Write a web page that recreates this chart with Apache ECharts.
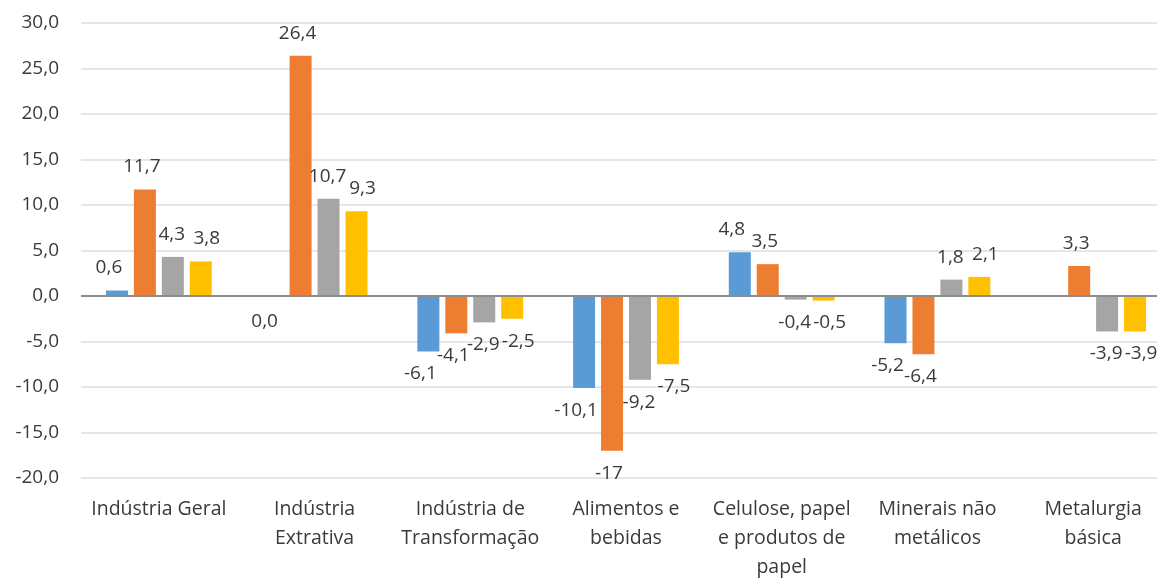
<!DOCTYPE html>
<html>
<head>
<meta charset="utf-8">
<script src="https://cdn.jsdelivr.net/npm/echarts@6/dist/echarts.min.js"></script>
<style>
  html, body { margin: 0; padding: 0; background: #fff; }
  #chart { width: 1157px; height: 579px; }
</style>
</head>
<body>
<div id="chart"></div>
<script>
// categorias do eixo x
var categories = ['Indústria Geral', 'Indústria\nExtrativa', 'Indústria de\nTransformação', 'Alimentos e\nbebidas',
  'Celulose, papel\ne produtos de\npapel', 'Minerais não\nmetálicos', 'Metalurgia\nbásica'];
// quatro séries (sem legenda no original)
var serieAzul = [0.6, 0.0, -6.1, -10.1, 4.8, -5.2, null];
var serieLaranja = [11.7, 26.4, -4.1, -17, 3.5, -6.4, 3.3];
var serieCinza = [4.3, 10.7, -2.9, -9.2, -0.4, 1.8, -3.9];
var serieAmarela = [3.8, 9.3, -2.5, -7.5, -0.5, 2.1, -3.9];
var yTicks = [-20, -15, -10, -5, 0, 5, 10, 15, 20, 25, 30];

var textColor = '#3a3a3a';
var fontFamily = '"Open Sans", sans-serif';
// deslocamento horizontal dos rótulos por série, para não encostarem
var labelShift = [-8, -3, -1, 6];

function fmt(v) {
  // rótulo com vírgula decimal; inteiros (ex. -17) sem casa decimal
  if (v !== 0 && Number.isInteger(v)) return String(v);
  return v.toFixed(1).replace('.', ',');
}

function buildData(values) {
  return values.map(function (v) {
    if (v === 0) {
      // barra zero: rótulo fica abaixo do eixo
      return { value: v, label: { position: 'bottom', distance: 16 } };
    }
    return v;
  });
}

function makeSeries(values, color, withZeroLine) {
  var s = {
    type: 'bar',
    data: buildData(values),
    barWidth: 22,
    barGap: '27%',
    itemStyle: { color: color },
    label: {
      show: true,
      position: 'outside',
      distance: 13,
      color: textColor,
      fontFamily: fontFamily,
      fontSize: 19,
      formatter: function (p) { return fmt(p.value); }
    },
    labelLayout: function (params) {
      return { dx: labelShift[params.seriesIndex] };
    }
  };
  if (withZeroLine) {
    s.markLine = {
      silent: true,
      symbol: 'none',
      label: { show: false },
      lineStyle: { color: '#8c8c8c', width: 2, type: 'solid' },
      data: [{ yAxis: 0 }]
    };
  }
  return s;
}

var chart = echarts.init(document.getElementById('chart'));
chart.setOption({
  animation: false,
  grid: {
    left: 81,
    right: -14,
    top: 23,
    bottom: 101,
    outerBoundsMode: 'none'
  },
  xAxis: {
    type: 'category',
    data: categories,
    axisLine: { show: false, onZero: false },
    axisTick: { show: false },
    axisLabel: {
      interval: 0,
      margin: 17,
      color: textColor,
      fontFamily: fontFamily,
      fontSize: 19.5,
      lineHeight: 29
    }
  },
  yAxis: {
    type: 'value',
    min: yTicks[0],
    max: yTicks[yTicks.length - 1],
    interval: 5,
    axisLine: { show: false },
    axisTick: { show: false },
    axisLabel: {
      margin: 22,
      color: textColor,
      fontFamily: fontFamily,
      fontSize: 19,
      formatter: function (v) { return v.toFixed(1).replace('.', ','); }
    },
    splitLine: {
      lineStyle: { color: '#dedede', width: 1.5 }
    }
  },
  series: [
    makeSeries(serieAzul, '#5b9bd5', true),
    makeSeries(serieLaranja, '#ed7d31'),
    makeSeries(serieCinza, '#a5a5a5'),
    makeSeries(serieAmarela, '#ffc000')
  ]
});
</script>
</body>
</html>
